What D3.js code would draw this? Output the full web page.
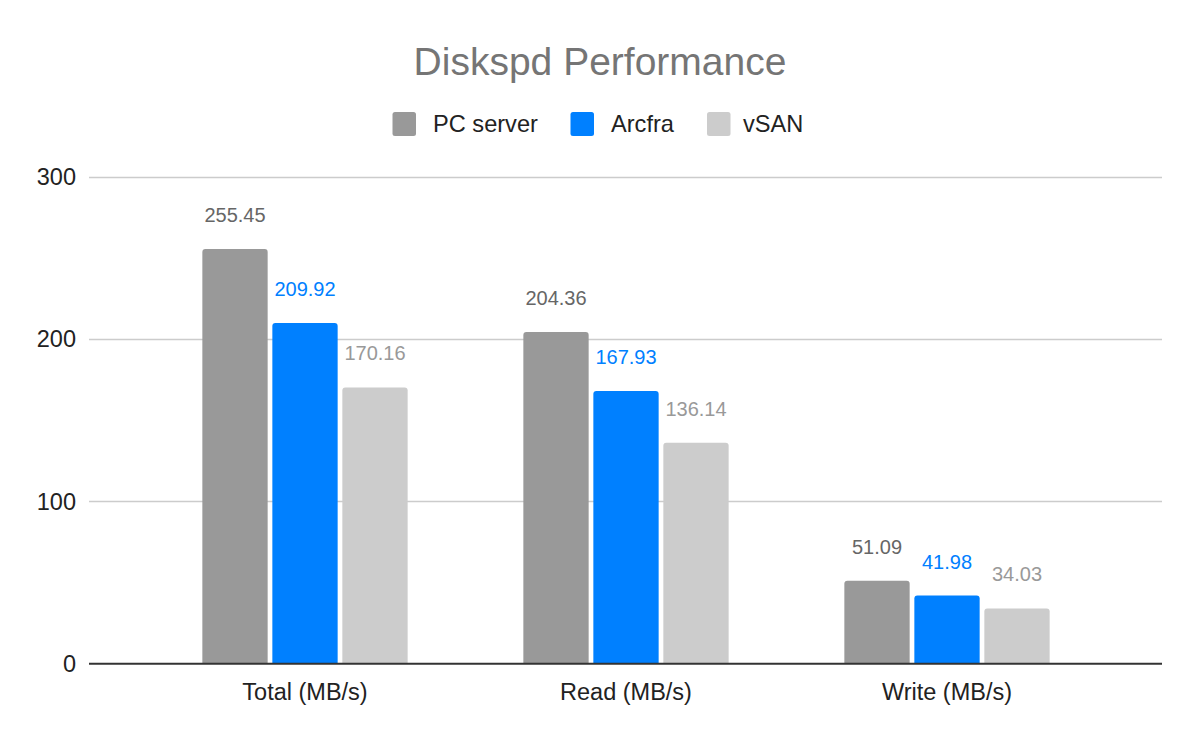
<!DOCTYPE html>
<html><head><meta charset="utf-8">
<script src="https://cdn.jsdelivr.net/npm/d3@7/dist/d3.min.js"></script>
<style>body{margin:0;background:#fff;} svg{display:block;font-family:Arial,"Liberation Sans",sans-serif;}</style>
</head><body>
<svg id="chart" width="1200" height="742"></svg>
<script>
const categories = ["Total (MB/s)", "Read (MB/s)", "Write (MB/s)"];
const seriesNames = ["PC server", "Arcfra", "vSAN"];
const pcServer = [255.45, 204.36, 51.09];
const arcfra = [209.92, 167.93, 41.98];
const vsan = [170.16, 136.14, 34.03];
const yTicks = [0, 100, 200, 300];
const barColors = ["#999999", "#0080ff", "#cccccc"];
const labelColors = ["#666666", "#0080ff", "#999999"];

const seriesValues = [pcServer, arcfra, vsan];
const svg = d3.select("#chart");

const y = d3.scaleLinear().domain([0, 300]).range([663.7, 176.7]);
const x0 = d3.scaleBand().domain(categories).range([144.5, 1107.5]).padding(0);
const groupW = 205.3;
const x1 = d3.scaleBand().domain(seriesNames).range([0, groupW]).paddingInner(0.067);

// title
svg.append("text").attr("x", 600).attr("y", 75).attr("text-anchor", "middle")
  .attr("font-size", 39).attr("fill", "#757575").text("Diskspd Performance");

// legend
const legendItems = [{sx:392.5, tx:433},{sx:570.5, tx:611},{sx:707, tx:743}];
seriesNames.forEach((s,i)=>{
  svg.append("rect").attr("x", legendItems[i].sx).attr("y", 112).attr("width", 23.5).attr("height", 24)
    .attr("rx", 2.5).attr("fill", barColors[i]);
  svg.append("text").attr("x", legendItems[i].tx).attr("y", 132).attr("font-size", 23.6)
    .attr("fill", "#222").text(s);
});

// gridlines
svg.append("g").selectAll("line").data(yTicks.filter(t=>t>0)).join("line")
  .attr("x1", 89).attr("x2", 1162).attr("y1", d=>Math.round(y(d))+0.5).attr("y2", d=>Math.round(y(d))+0.5)
  .attr("stroke", "#cccccc").attr("stroke-width", 1.5);

// y tick labels
svg.append("g").selectAll("text").data(yTicks).join("text")
  .attr("x", 76).attr("y", d=>y(d)).attr("dy", "0.35em").attr("text-anchor", "end")
  .attr("font-size", 23.5).attr("fill", "#222").text(d=>d);

// bars
function topRounded(x, yy, w, h, r){
  r = Math.min(r, h, w/2);
  return `M${x},${yy+h}V${yy+r}Q${x},${yy} ${x+r},${yy}H${x+w-r}Q${x+w},${yy} ${x+w},${yy+r}V${yy+h}Z`;
}
const groups = svg.append("g").selectAll("g").data(categories).join("g")
  .attr("transform", c=>`translate(${x0(c)+(x0.bandwidth()-groupW)/2},0)`);
seriesNames.forEach((s,si)=>{
  groups.append("path")
    .attr("d", (c,ci)=>{const v=seriesValues[si][ci]; return topRounded(x1(s), y(v), x1.bandwidth(), y(0)-y(v), 3);})
    .attr("fill", barColors[si]);
  groups.append("text")
    .attr("x", x1(s)+x1.bandwidth()/2)
    .attr("y", (c,ci)=>y(seriesValues[si][ci])-27)
    .attr("text-anchor", "middle").attr("font-size", 20).attr("fill", labelColors[si])
    .text((c,ci)=>seriesValues[si][ci].toFixed(2));
});

// baseline axis
svg.append("line").attr("x1", 89).attr("x2", 1162).attr("y1", y(0)).attr("y2", y(0))
  .attr("stroke", "#333").attr("stroke-width", 2);

// x labels
svg.append("g").selectAll("text").data(categories).join("text")
  .attr("x", c=>x0(c)+x0.bandwidth()/2).attr("y", 700).attr("text-anchor", "middle")
  .attr("font-size", 23.5).attr("fill", "#222").text(c=>c);
</script>
</body></html>
